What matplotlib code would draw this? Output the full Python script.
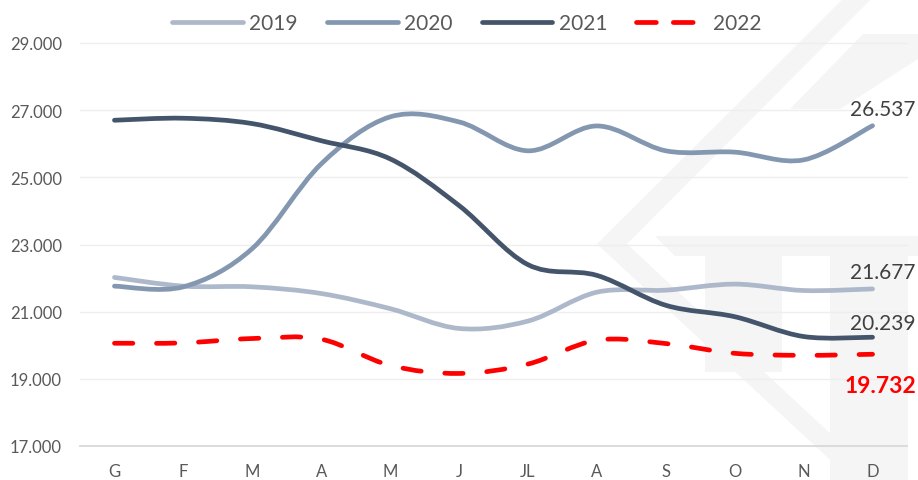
import matplotlib
matplotlib.use("Agg")
import matplotlib.pyplot as plt
from matplotlib.path import Path
from matplotlib.patches import PathPatch, Polygon
from matplotlib.lines import Line2D
import numpy as np

plt.rcParams['font.family'] = ['Lato', 'DejaVu Sans']

months = ["G", "F", "M", "A", "M", "J", "JL", "A", "S", "O", "N", "D"]
y2019 = [22.02, 21.76, 21.74, 21.54, 21.09, 20.50, 20.72, 21.58, 21.64, 21.82, 21.63, 21.677]
y2020 = [21.76, 21.74, 22.88, 25.40, 26.80, 26.65, 25.79, 26.53, 25.79, 25.75, 25.52, 26.537]
y2021 = [26.70, 26.76, 26.60, 26.09, 25.55, 24.16, 22.40, 22.08, 21.19, 20.85, 20.26, 20.239]
y2022 = [20.06, 20.07, 20.20, 20.18, 19.40, 19.16, 19.44, 20.15, 20.05, 19.76, 19.70, 19.732]
series_names = ["2019", "2020", "2021", "2022"]
yticks = [17, 19, 21, 23, 25, 27, 29]
ytick_labels = ["17.000", "19.000", "21.000", "23.000", "25.000", "27.000", "29.000"]
end_labels = ["21.677", "26.537", "20.239", "19.732"]

W, H = 918, 481
fig = plt.figure(figsize=(W / 100, H / 100), dpi=100)
fig.patch.set_facecolor("white")

# watermark (pixel coords, origin bottom-left)
wm = "#f5f5f5"
def P(pts):
    return [(x, H - y) for x, y in pts]
shapes = [
    P([(843, 0), (871, 0), (627, 245), (880, 481), (852, 481), (597, 245)]),
    P([(655, 237), (918, 237), (918, 257), (675, 257)]),
    P([(705, 257), (782, 257), (782, 373), (705, 373)]),
    P([(830, 257), (908, 257), (908, 481), (830, 481)]),
    P([(863, 35), (918, 35), (918, 60), (840, 110), (790, 110)]),
]
for s in shapes:
    fig.patches.append(Polygon(s, closed=True, transform=None, facecolor=wm,
                               edgecolor="none", zorder=0))

ax = fig.add_axes([80 / W, 34 / H, (907 - 80) / W, (447 - 44) / H])
ax.set_facecolor("none")
ax.set_zorder(1)
x = np.arange(len(months))
ax.set_xlim(-0.5, len(months) - 0.5)
ax.set_ylim(17, 29)
for s in ax.spines.values():
    s.set_visible(False)
for t in yticks:
    ax.axhline(t, color="#d9d9d9" if t == 17 else "#eeeeee",
               lw=1.3 if t == 17 else 1.0, zorder=1, clip_on=False)
ax.set_yticks(yticks)
ax.set_yticklabels(ytick_labels)
ax.set_xticks(x)
ax.set_xticklabels(months)
ax.tick_params(axis="both", length=0, labelsize=12, labelcolor="#595959")
ax.tick_params(axis="y", pad=13)
ax.tick_params(axis="x", pad=12)


def smooth_path(xs, ys):
    pts = np.column_stack([xs, ys]).astype(float)
    n = len(pts)
    verts = [tuple(pts[0])]
    codes = [Path.MOVETO]
    for i in range(n - 1):
        p0 = pts[max(i - 1, 0)]
        p1 = pts[i]
        p2 = pts[i + 1]
        p3 = pts[min(i + 2, n - 1)]
        c1 = p1 + (p2 - p0) / 6.0
        c2 = p2 - (p3 - p1) / 6.0
        verts += [tuple(c1), tuple(c2), tuple(p2)]
        codes += [Path.CURVE4] * 3
    return Path(verts, codes)

colors = ["#adb9ca", "#8497b0", "#44546a", "#ff0000"]
data = [y2019, y2020, y2021, y2022]
lw = 3.4
handles = []
for name, ys, c in zip(series_names, data, colors):
    pp = PathPatch(smooth_path(x, ys), facecolor="none", edgecolor=c, lw=lw,
                   capstyle="round", joinstyle="round", zorder=3)
    if name == "2022":
        pp.set_linestyle((0, (3.9, 5.0)))
    ax.add_patch(pp)
    h = Line2D([], [], color=c, lw=lw, solid_capstyle="round", dash_capstyle="round")
    if name == "2022":
        h.set_dashes((4.2, 3.6))
    handles.append(h)

offsets = {"2019": (10, 17), "2020": (10, 17), "2021": (10, 14), "2022": (8, -31)}
for name, ys, lab in zip(series_names, data, end_labels):
    if name == "2022":
        ax.annotate(lab, (x[-1], ys[-1]), xytext=offsets[name], textcoords="offset pixels",
                    ha="center", va="center", fontsize=16.5, color="#ff0000",
                    fontweight="bold", annotation_clip=False, zorder=5)
    else:
        ax.annotate(lab, (x[-1], ys[-1]), xytext=offsets[name], textcoords="offset pixels",
                    ha="center", va="center", fontsize=15, color="#404040",
                    annotation_clip=False, zorder=5)

leg = fig.legend(handles, series_names, loc="center", bbox_to_anchor=(467 / W, 1 - 24 / H),
                 ncol=4, frameon=False, fontsize=15, handlelength=3.4, handletextpad=0.3,
                 columnspacing=1.4, labelcolor="#595959")

fig.savefig("out.png", dpi=100, facecolor="white")
